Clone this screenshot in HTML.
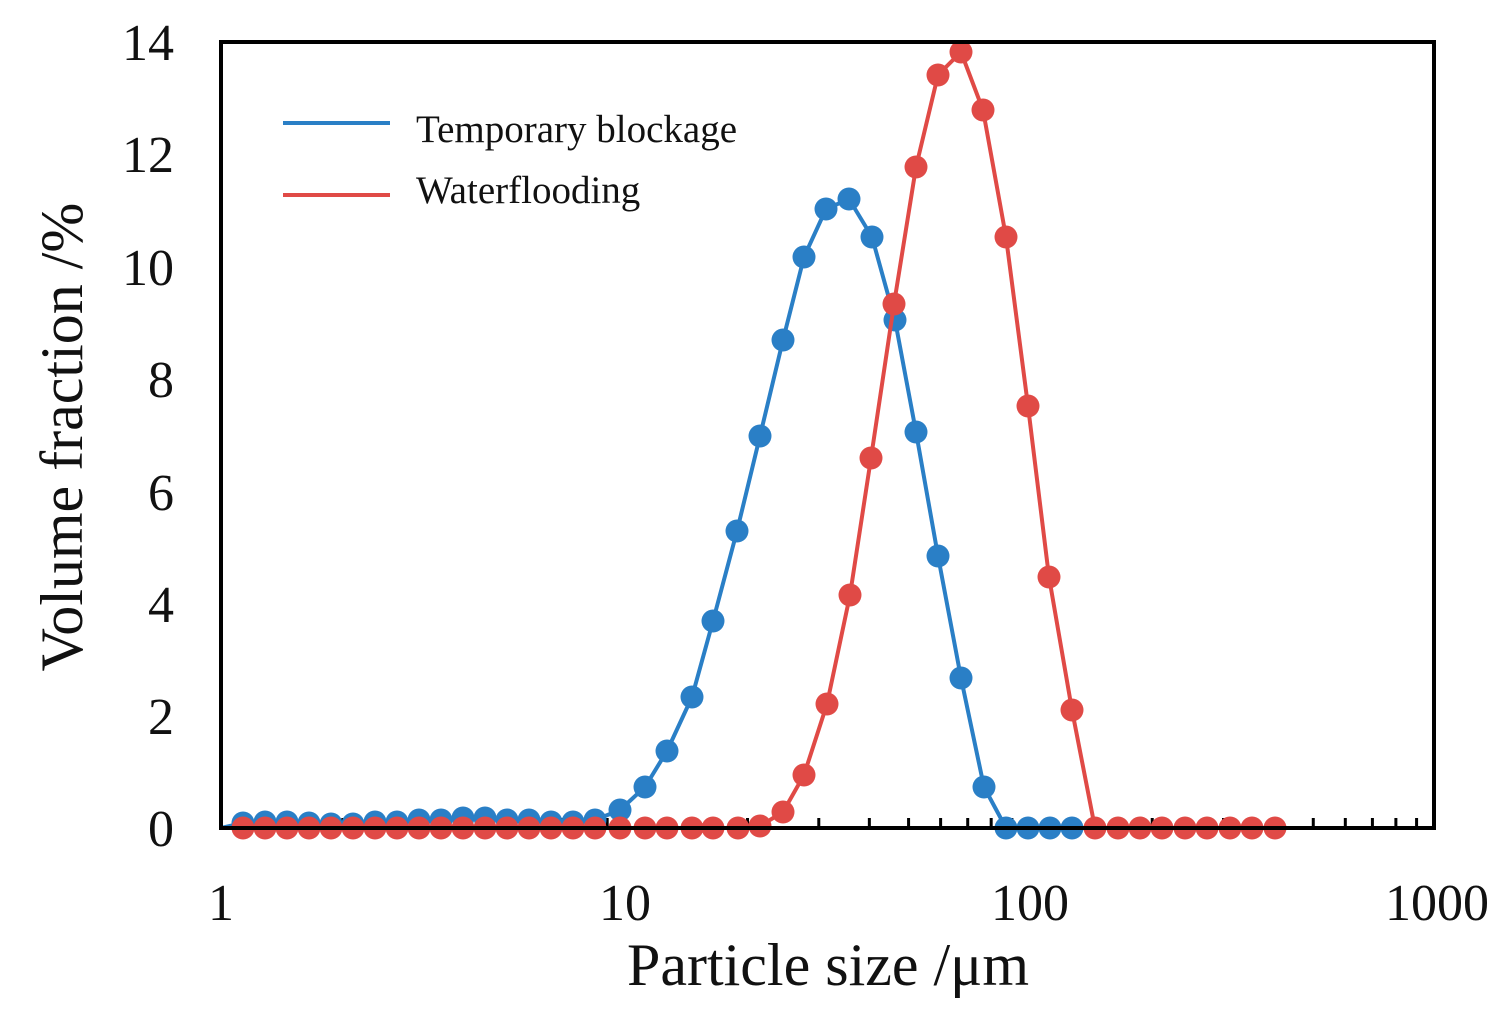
<!DOCTYPE html>
<html><head><meta charset="utf-8"><style>
html,body{margin:0;padding:0;background:#fff;}
svg{display:block;}
text{font-family:"Liberation Serif",serif;fill:#111;}
</style></head><body>
<svg id="s" width="1507" height="1029" viewBox="0 0 1507 1029" xmlns="http://www.w3.org/2000/svg">
<rect x="0" y="0" width="1507" height="1029" fill="#fff"/>
<g id="ticks" stroke="#000" stroke-width="3"></g>
<g id="series"></g>
<rect x="221" y="42" width="1213" height="786" fill="none" stroke="#000" stroke-width="4"/>
<g font-size="52" text-anchor="end">
<text x="174" y="846">0</text><text x="174" y="734">2</text><text x="174" y="622">4</text>
<text x="174" y="510">6</text><text x="174" y="397">8</text><text x="174" y="285">10</text>
<text x="174" y="172">12</text><text x="174" y="60">14</text>
</g>
<g font-size="52" text-anchor="middle">
<text x="221" y="920">1</text><text x="625" y="920">10</text><text x="1030" y="920">100</text><text x="1437" y="920">1000</text>
</g>
<text x="828" y="985" font-size="60" text-anchor="middle">Particle size /μm</text>
<text transform="translate(82,437) rotate(-90)" font-size="60" text-anchor="middle">Volume fraction /%</text>
<line x1="283" y1="123" x2="390" y2="123" stroke="#2a7fc6" stroke-width="4"/>
<line x1="283" y1="195" x2="390" y2="195" stroke="#e04a46" stroke-width="4"/>
<text x="416" y="142" font-size="39">Temporary blockage</text>
<text x="416" y="203" font-size="39">Waterflooding</text>
</svg>
<script>
var NS="http://www.w3.org/2000/svg";
var t=document.getElementById('ticks');
function ln(x1,y1,x2,y2){var l=document.createElementNS(NS,'line');l.setAttribute('x1',x1);l.setAttribute('y1',y1);l.setAttribute('x2',x2);l.setAttribute('y2',y2);t.appendChild(l);}
for(var d=0;d<3;d++)for(var k=2;k<=9;k++){var x=221+404.7*(d+Math.log10(k));ln(x,828,x,818);}
var blue=[[221,828],[243,823],[265,822],[287,822],[309,823],[331,824],[353,824],[375,822],[397,822],[419,820],[441,820],[463,818],[485,818],[507,820],[529,820],[551,822],[573,822],[595,820],[620,810],[645,787],[667,751],[692,697],[713,621],[737,531],[760,436],[783,340],[804,257],[826,209],[849,199],[872,237],[895,320],[916,432],[938,556],[961,678],[984,787],[1006,828],[1028,828],[1050,828],[1072,828]];
var red=[[221,828]];
[243,265,287,309,331,353,375,397,419,441,463,485,507,529,551,573,595,620,645,667,692,713,738].forEach(function(x){red.push([x,828]);});
red=red.concat([[760,826],[783,812],[804,775],[827,704],[850,595],[871,458],[894,304],[916,167],[938,75],[961,52],[983,110],[1006,237],[1028,406],[1049,577],[1072,710]]);
[1095,1118,1140,1162,1185,1207,1230,1252,1275].forEach(function(x){red.push([x,828]);});
var g=document.getElementById('series');
function draw(pts,c){var p=document.createElementNS(NS,'polyline');p.setAttribute('points',pts.map(function(a){return a.join(',')}).join(' '));p.setAttribute('fill','none');p.setAttribute('stroke',c);p.setAttribute('stroke-width','4');g.appendChild(p);
pts.forEach(function(a,i){if(i==0)return;var ci=document.createElementNS(NS,'circle');ci.setAttribute('cx',a[0]);ci.setAttribute('cy',a[1]);ci.setAttribute('r','11.5');ci.setAttribute('fill',c);g.appendChild(ci);});}
draw(blue,'#2a7fc6');
draw(red,'#e04a46');
</script>
</body></html>
